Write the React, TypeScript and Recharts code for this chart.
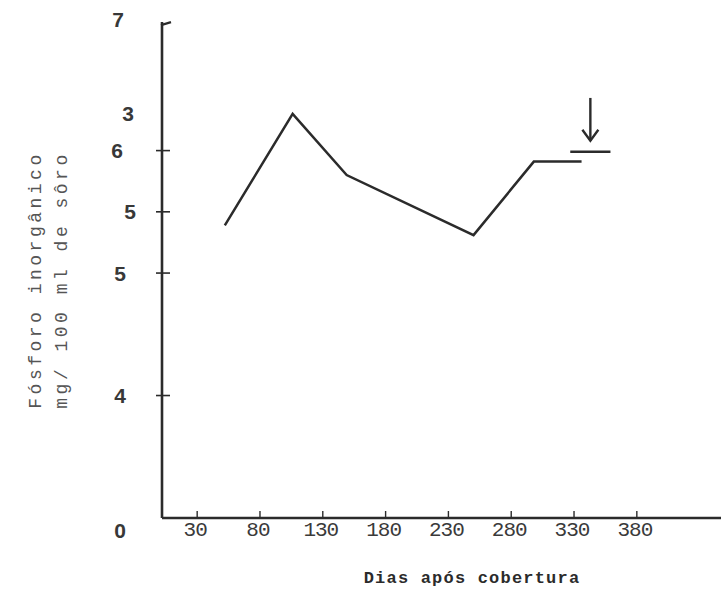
import React from "react";
import { LineChart, Line, XAxis, YAxis } from "recharts";

// dias após cobertura / fósforo inorgânico (mg/100 ml)
const days = [52, 106, 149, 250, 298, 336];
const fosforo = [5.39, 6.3, 5.8, 5.31, 5.91, 5.91];

const laterDays = [327, 359];
const laterFosforo = [5.99, 5.99];

const arrowDays = [343, 343];
const arrowFosforo = [6.43, 6.08];

const xTicks = [30, 80, 130, 180, 230, 280, 330, 380];
const yTicks = [7, 6.3, 6, 5.5, 5, 4, 3];
const yTickLabels = ["7", "3", "6", "5", "5", "4", "0"];

const mainData = days.map((d, i) => ({ day: d, v: fosforo[i] }));
const laterData = laterDays.map((d, i) => ({ day: d, v: laterFosforo[i] }));
const arrowData = arrowDays.map((d, i) => ({ day: d, v: arrowFosforo[i] }));

const INK = "#2b2b2b";

// label nudges, as typed on the original sheet
const yLabelDx = [-44, -34, -45, -32, -42, -42, -42];
const yLabelDy = [-9, 0, 0, 0, 0, 0, 12];

function YTick(props: any) {
  const { x, y, payload, index } = props;
  const v = payload.value;
  const cross = v === 6 || v === 5.5 || v === 5 || v === 4;
  return (
    <g>
      {cross && <line x1={x - 6} x2={x + 8} y1={y} y2={y} stroke={INK} strokeWidth={1.6} />}
      {v === 7 && <line x1={x - 1} x2={x + 9} y1={y - 3} y2={y - 6} stroke={INK} strokeWidth={2.2} />}
      <text
        x={x + yLabelDx[index]}
        y={y + yLabelDy[index]}
        textAnchor="middle"
        dominantBaseline="central"
        fontFamily="Liberation Sans"
        fontWeight="bold"
        fontSize={21}
        fill="#383838"
      >
        {yTickLabels[index]}
      </text>
    </g>
  );
}

function XTick(props: any) {
  const { x, y, payload } = props;
  return (
    <g>
      <line x1={x} x2={x} y1={y} y2={y - 7} stroke={INK} strokeWidth={1.4} />
      <text
        x={x - 2}
        y={y + 12}
        textAnchor="middle"
        dominantBaseline="central"
        fontFamily="Liberation Mono"
        fontSize={21}
        letterSpacing={-1}
        fill="#3a3a3a"
      >
        {payload.value}
      </text>
    </g>
  );
}

function ArrowHead(props: any) {
  const { cx, cy, index } = props;
  if (index !== 1) return <g key={`a${index}`} />;
  return (
    <path
      key={`a${index}`}
      d={`M${cx - 8},${cy - 11} L${cx},${cy} L${cx + 8},${cy - 11}`}
      fill="none"
      stroke={INK}
      strokeWidth={2.4}
    />
  );
}

export default function App() {
  return (
    <div style={{ position: "absolute", left: 0, top: 0, width: 721, height: 598, background: "#fff" }}>
      <LineChart width={721} height={598} margin={{ top: 22, right: 0, left: 0, bottom: 0 }}>
        <XAxis
          type="number"
          dataKey="day"
          domain={[2, 447]}
          ticks={xTicks}
          height={80}
          tickSize={0}
          tickMargin={0}
          tickLine={false}
          tick={<XTick />}
          axisLine={{ stroke: INK, strokeWidth: 2.6 }}
          allowDataOverflow
        />
        <YAxis
          type="number"
          domain={[3, 7.05]}
          ticks={yTicks}
          width={162}
          tickSize={0}
          tickMargin={0}
          tickLine={false}
          tick={<YTick />}
          axisLine={{ stroke: INK, strokeWidth: 2.6 }}
          allowDataOverflow
        />
        <Line data={mainData} dataKey="v" stroke={INK} strokeWidth={2.5} dot={false} isAnimationActive={false} />
        <Line data={laterData} dataKey="v" stroke={INK} strokeWidth={2.5} dot={false} isAnimationActive={false} />
        <Line data={arrowData} dataKey="v" stroke={INK} strokeWidth={2.4} dot={ArrowHead} isAnimationActive={false} />
      </LineChart>
      <svg
        width={721}
        height={598}
        style={{ position: "absolute", left: 0, top: 0, pointerEvents: "none" }}
      >
        <g fontFamily="Liberation Mono" fontSize={18} fill="#555" letterSpacing={3.5}>
          <text x={36} y={280} textAnchor="middle" dominantBaseline="central" transform="rotate(-90 36 280)">
            Fósforo inorgânico
          </text>
          <text x={62} y={280} textAnchor="middle" dominantBaseline="central" transform="rotate(-90 62 280)">
            mg/ 100 ml de sôro
          </text>
        </g>
        <text
          x={472}
          y={578}
          textAnchor="middle"
          dominantBaseline="central"
          fontFamily="Liberation Mono"
          fontWeight="bold"
          fontSize={17}
          letterSpacing={1.2}
          fill="#2b2b2b"
        >
          Dias após cobertura
        </text>
      </svg>
    </div>
  );
}
